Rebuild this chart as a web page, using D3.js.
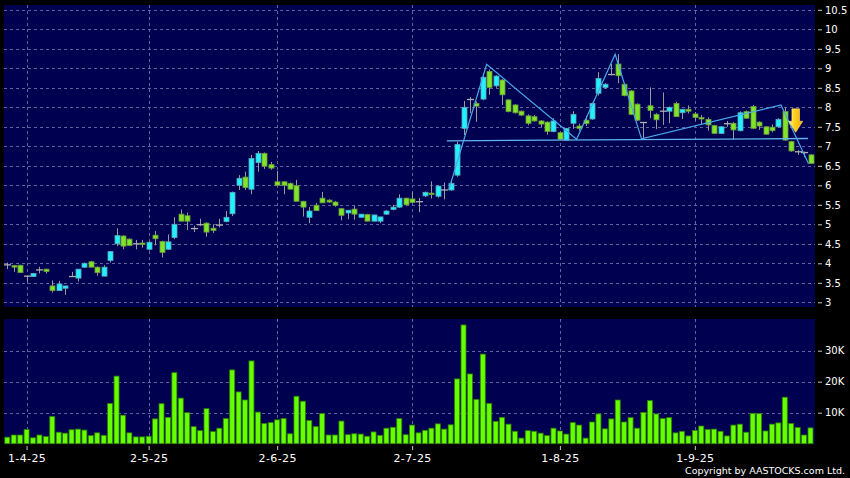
<!DOCTYPE html>
<html><head><meta charset="utf-8">
<script src="https://cdn.jsdelivr.net/npm/d3@7"></script>
<style>html,body{margin:0;padding:0;background:#000;} svg{display:block;}</style>
</head><body>
<svg id="c" width="850" height="478"></svg>
<script>
// ---------- DATA ----------
const openP = [3.96,3.94,3.95,3.67,3.66,3.83,3.85,3.42,3.30,3.36,
3.66,3.62,3.90,4.04,3.90,3.67,4.07,4.50,4.70,4.62,
4.50,4.52,4.36,4.72,4.56,4.36,4.66,5.26,5.22,4.89,
4.99,5.03,4.90,4.98,5.07,5.27,6.00,6.21,5.90,6.58,
6.82,6.53,6.09,6.09,6.05,5.99,5.59,5.18,5.49,5.67,
5.62,5.57,5.40,5.29,5.39,5.18,5.25,5.08,5.08,5.26,
5.38,5.44,5.67,5.65,5.58,5.73,5.80,5.72,5.88,5.88,
6.26,7.46,8.20,8.10,8.21,8.92,8.55,8.70,8.19,8.06,
7.90,7.78,7.76,7.65,7.62,7.38,7.35,7.16,7.59,7.52,
7.67,7.70,8.36,8.51,8.84,9.11,8.59,8.42,8.08,7.61,
8.04,7.82,7.90,7.90,8.10,7.86,7.95,7.83,7.74,7.69,
7.53,7.33,7.58,7.59,7.40,7.89,8.02,7.62,7.50,7.49,
7.50,7.89,7.12,6.86,6.84,6.78];
const highP = [4.02,3.96,3.96,3.67,3.75,3.91,3.86,3.56,3.55,3.42,
3.78,3.85,4.02,4.06,3.92,3.95,4.30,4.90,4.72,4.64,
4.60,4.60,4.56,4.83,4.58,4.74,5.18,5.38,5.30,4.96,
5.14,5.05,5.00,5.14,5.34,5.84,6.26,6.35,6.78,6.88,
6.84,6.60,6.37,6.10,6.07,6.14,5.60,5.44,5.55,5.83,
5.64,5.60,5.42,5.36,5.48,5.26,5.27,5.24,5.19,5.36,
5.50,5.77,5.68,5.83,5.67,5.84,6.10,6.00,6.07,6.12,
7.12,8.16,8.26,8.15,8.88,8.97,8.82,8.72,8.20,8.08,
7.92,7.82,7.80,7.67,7.64,7.72,7.37,7.47,7.90,7.58,
7.78,8.12,8.90,8.62,9.11,9.36,8.62,8.44,8.10,7.62,
8.51,7.85,8.38,8.02,8.14,7.95,8.05,7.88,7.80,7.74,
7.55,7.52,7.65,7.62,7.90,7.92,8.06,7.64,7.52,7.56,
7.72,8.00,7.14,6.90,6.86,6.80];
const lowP = [3.85,3.78,3.76,3.53,3.66,3.74,3.74,3.25,3.30,3.19,
3.66,3.53,3.88,3.90,3.68,3.67,4.02,4.44,4.36,4.44,
4.36,4.40,4.33,4.46,4.15,4.34,4.62,5.08,4.85,4.80,
4.96,4.68,4.78,4.92,5.05,5.21,5.88,5.88,5.77,6.35,
6.42,6.40,6.00,5.77,5.90,5.59,5.20,5.03,5.35,5.55,
5.55,5.45,5.10,5.13,5.12,5.16,5.08,5.07,5.03,5.24,
5.36,5.42,5.48,5.55,5.31,5.70,5.66,5.68,5.64,5.86,
6.22,7.29,7.85,7.63,8.18,8.32,8.50,8.06,7.87,7.84,
7.78,7.54,7.63,7.48,7.30,7.36,7.17,7.15,7.45,7.40,
7.52,7.68,8.30,8.48,8.82,8.62,8.28,7.80,7.65,7.21,
7.72,7.44,7.55,7.59,7.76,7.70,7.84,7.66,7.56,7.40,
7.33,7.32,7.50,7.18,7.38,7.70,7.44,7.42,7.30,7.36,
7.48,7.14,6.86,6.78,6.72,6.55];
const closeP = [3.96,3.92,3.76,3.67,3.74,3.83,3.79,3.30,3.47,3.42,
3.66,3.85,4.00,3.90,3.76,3.90,4.30,4.71,4.44,4.46,
4.50,4.49,4.54,4.63,4.28,4.55,5.00,5.08,5.08,4.89,
4.99,4.80,4.84,4.98,5.18,5.82,6.18,5.94,6.69,6.82,
6.49,6.44,6.00,6.00,5.90,5.59,5.44,5.34,5.35,5.55,
5.57,5.48,5.23,5.36,5.26,5.26,5.08,5.24,5.19,5.34,
5.44,5.67,5.50,5.56,5.58,5.82,5.78,5.98,5.88,6.05,
7.05,8.00,8.20,8.03,8.77,8.51,8.80,8.32,7.89,7.86,
7.80,7.59,7.65,7.57,7.38,7.65,7.18,7.46,7.82,7.46,
7.58,8.10,8.74,8.59,8.84,8.81,8.30,7.82,7.67,7.61,
7.92,7.68,7.90,8.00,7.76,7.95,7.90,7.74,7.70,7.55,
7.33,7.50,7.58,7.42,7.86,7.72,7.46,7.52,7.31,7.40,
7.69,7.16,6.88,6.86,6.84,6.56];
const volumeK = [2.1,2.8,2.8,4.6,1.9,2.8,2.3,8.8,3.7,3.4,
4.5,4.7,4.4,2.6,3.5,2.7,13.0,21.8,9.2,3.5,
2.2,2.2,2.4,8.0,12.9,8.5,22.9,14.7,10.0,5.5,
4.2,11.3,3.9,5.0,8.1,23.8,16.7,14.1,26.7,10.2,
6.5,6.8,7.7,8.1,3.2,15.3,13.7,7.5,5.5,9.7,
2.8,2.8,7.3,2.9,3.2,3.1,2.4,3.8,2.7,5.0,
5.3,8.1,2.9,6.0,3.5,4.3,5.0,6.4,4.7,6.1,
20.9,38.3,22.5,14.3,28.9,13.0,7.2,8.5,6.3,4.0,
1.8,4.2,4.0,3.4,2.6,5.0,4.1,3.1,6.8,6.0,
1.8,7.0,9.6,4.8,8.0,14.1,7.0,8.4,5.0,10.1,
13.9,9.6,8.1,8.4,3.5,4.0,2.5,4.3,5.7,4.6,
4.7,4.0,2.5,6.0,6.3,3.7,9.8,9.7,4.1,6.3,
6.7,15.0,6.5,5.2,2.8,5.1];

const dateTickIdx = [3, 22, 42, 63, 86, 107];
const dateTickLabels = ['1-4-25','2-5-25','2-6-25','2-7-25','1-8-25','1-9-25'];
const priceTicks = [3,3.5,4,4.5,5,5.5,6,6.5,7,7.5,8,8.5,9,9.5,10,10.5];
const volumeTicks = [10000, 20000, 30000];
const volumeTickLabels = ['10K','20K','30K'];

// pattern lines (index, price)
const zigzagIdx = [68.7, 74.6, 88.6, 94.6, 98.7, 120.4, 124.7];
const zigzagVal = [5.88, 9.10, 7.18, 9.36, 7.19, 8.06, 6.55];
const necklineIdx = [68.4, 124.6];
const necklineVal = [7.14, 7.20];
const arrowIdx = 122.7, arrowTop = 7.96, arrowTip = 7.36;

// ---------- CHART ----------
const svg = d3.select('#c');
svg.append('rect').attr('width',850).attr('height',478).attr('fill','#000');

const n = openP.length;
const x = d3.scaleLinear().domain([0, n-1]).range([7.3, 810.5]);
const yP = d3.scaleLinear().domain([3, 10.5]).range([302.3, 9.8]);
const yV = d3.scaleLinear().domain([0, 40000]).range([443.7, 319.7]);
const L = 4, R = 815;
const pTop = 5, pBot = 307, vTop = 319, vBot = 444;

svg.append('rect').attr('x',L).attr('y',pTop).attr('width',R-L).attr('height',pBot-pTop).attr('fill','#000050');
svg.append('rect').attr('x',L).attr('y',vTop).attr('width',R-L).attr('height',vBot-vTop).attr('fill','#000050');

const gridColor = '#62629e';
const grid = svg.append('g').attr('stroke',gridColor).attr('stroke-width',1).attr('stroke-dasharray','3,3').attr('fill','none');
priceTicks.forEach(t => grid.append('line').attr('x1',L).attr('x2',R).attr('y1',Math.round(yP(t))+0.5).attr('y2',Math.round(yP(t))+0.5));
volumeTicks.forEach(t => grid.append('line').attr('x1',L).attr('x2',R).attr('y1',Math.round(yV(t))+0.5).attr('y2',Math.round(yV(t))+0.5));
dateTickIdx.forEach(t => {
  const xx = Math.round(x(t))+0.5;
  grid.append('line').attr('x1',xx).attr('x2',xx).attr('y1',pTop).attr('y2',pBot);
  grid.append('line').attr('x1',xx).attr('x2',xx).attr('y1',vTop).attr('y2',vBot);
});

// volume bars
const idx = d3.range(n);
svg.append('g').selectAll('rect').data(idx).join('rect')
  .attr('x', i => x(i) - 2.5)
  .attr('width', 5)
  .attr('y', i => yV(volumeK[i]*1000))
  .attr('height', i => yV(0) - yV(volumeK[i]*1000))
  .attr('fill', '#66ff00')
  .attr('stroke', '#2f8000')
  .attr('stroke-width', 0.8);

// candles
const cg = svg.append('g');
idx.forEach(i => {
  const cx = Math.round(x(i)) + 0.5;
  const o = openP[i], c = closeP[i], h = highP[i], l = lowP[i];
  cg.append('line').attr('x1',cx).attr('x2',cx).attr('y1',yP(h)).attr('y2',yP(l))
    .attr('stroke','#9a9a9a').attr('stroke-width',1);
  if (o === c) {
    cg.append('line').attr('x1',cx-3.5).attr('x2',cx+3.5).attr('y1',yP(o)).attr('y2',yP(o))
      .attr('stroke','#b0b0b0').attr('stroke-width',1.3);
  } else {
    const up = c > o;
    const top = yP(Math.max(o,c)), bot = yP(Math.min(o,c));
    cg.append('rect').attr('x',cx-2.5).attr('width',5)
      .attr('y',top).attr('height',Math.max(1.5, bot-top))
      .attr('fill', up ? '#22f0ff' : '#80e428')
      .attr('stroke', up ? '#5aa8b8' : '#6a9a3a').attr('stroke-width',0.8);
  }
});

// pattern lines
const lineGen = d3.line().x(d => x(d[0])).y(d => yP(d[1]));
svg.append('path').datum(necklineIdx.map((v,i)=>[v, necklineVal[i]]))
  .attr('d', lineGen).attr('fill','none').attr('stroke','#62b4f0').attr('stroke-width',1.3);
svg.append('path').datum(zigzagIdx.map((v,i)=>[v, zigzagVal[i]]))
  .attr('d', lineGen).attr('fill','none').attr('stroke','#4aa8ec').attr('stroke-width',1.2);

// arrow
const defs = svg.append('defs');
const grad = defs.append('linearGradient').attr('id','ag').attr('x1','0').attr('x2','1').attr('y1','0').attr('y2','0');
grad.append('stop').attr('offset','0%').attr('stop-color','#fff49a');
grad.append('stop').attr('offset','40%').attr('stop-color','#ffd21e');
grad.append('stop').attr('offset','100%').attr('stop-color','#ffaa00');
const ax = x(arrowIdx), yt = yP(arrowTop), ytip = yP(arrowTip), yh = ytip - 11;
svg.append('path')
  .attr('d', `M${ax-3.8},${yt} L${ax+3.8},${yt} L${ax+3.8},${yh} L${ax+7},${yh} L${ax},${ytip} L${ax-7},${yh} L${ax-3.8},${yh} Z`)
  .attr('fill','url(#ag)').attr('stroke','#ffe680').attr('stroke-width',0.6);

// axes
const font = "'DejaVu Sans', Verdana, sans-serif";
const pAxis = svg.append('g').attr('transform',`translate(818,0)`)
  .call(d3.axisRight(yP).tickValues(priceTicks).tickSize(4).tickPadding(3).tickFormat(d => String(d)));
const vAxis = svg.append('g').attr('transform',`translate(818,0)`)
  .call(d3.axisRight(yV).tickValues(volumeTicks).tickSize(4).tickPadding(3).tickFormat((d,i) => volumeTickLabels[i]));
const xAxis = svg.append('g').attr('transform',`translate(0,446)`)
  .call(d3.axisBottom(x).tickValues(dateTickIdx).tickSize(4).tickPadding(4.5).tickFormat((d,i) => dateTickLabels[i]));
[pAxis, vAxis, xAxis].forEach(g => {
  g.select('.domain').remove();
  g.selectAll('.tick line').attr('stroke','#c8c8c8');
  g.selectAll('text').attr('fill','#ffffff').style('font-family', font);
});
pAxis.selectAll('text').style('font-size','10px');
vAxis.selectAll('text').style('font-size','10px');
xAxis.selectAll('text').style('font-size','11px').style('letter-spacing','0.4px');

svg.append('text').attr('x',845).attr('y',474).attr('text-anchor','end')
  .attr('fill','#ffffff').style('font-family',font).style('font-size','9.5px')
  .text('Copyright by AASTOCKS.com Ltd.');
</script>
</body></html>
